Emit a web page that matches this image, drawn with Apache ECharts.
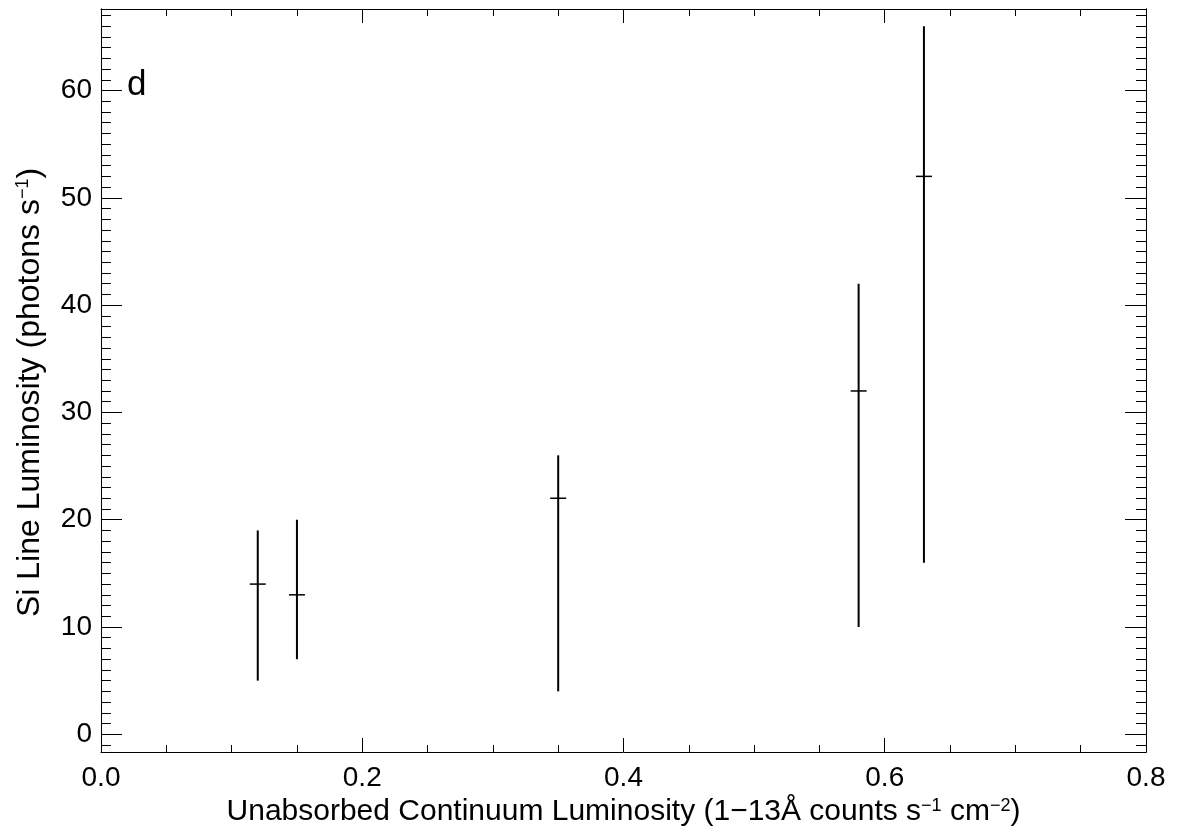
<!DOCTYPE html>
<html>
<head>
<meta charset="utf-8">
<script src="https://cdn.jsdelivr.net/npm/echarts@6/dist/echarts.min.js"></script>
<style>html,body{margin:0;padding:0;background:#fff}#c{width:1182px;height:834px}</style>
</head>
<body>
<div id="c"></div>
<script>
// Data
const xValues = [0.12, 0.15, 0.35, 0.58, 0.63];
const yValues = [14, 13, 22, 32, 52];
const yLow    = [5, 7, 4, 10, 16];
const yHigh   = [19, 20, 26, 42, 66];

const xTickLabels = [0.0, 0.2, 0.4, 0.6, 0.8];
const yMajorTicks = [0, 10, 20, 30, 40, 50, 60];
const yMinorTicks = [];
for (let v = -1; v <= 67; v++) yMinorTicks.push(v);

const X_MIN = 0, X_MAX = 0.8, Y_MIN = -1.65, Y_MAX = 67.6;
const FONT = '"Liberation Sans", Arial, sans-serif';

const seriesData = xValues.map((x, i) => [x, yValues[i], yLow[i], yHigh[i]]);

const chart = echarts.init(document.getElementById('c'), null, {renderer: 'canvas'});

const axisLine = {show: true, onZero: false, lineStyle: {color: '#000', width: 1}};

function yAx(pos, ticks, len, labels, extra) {
  return Object.assign({
    type: 'value', position: pos, min: Y_MIN, max: Y_MAX,
    axisLine: axisLine,
    axisTick: {show: true, inside: true, length: len, customValues: ticks, lineStyle: {color: '#000', width: 1}},
    axisLabel: labels ? {show: true, customValues: yMajorTicks, fontSize: 28, color: '#000', fontFamily: FONT, margin: 9, formatter: v => String(Math.round(v))} : {show: false},
    splitLine: {show: false}
  }, extra || {});
}

const supRich = {
  sup: {fontSize: 18, fontFamily: FONT, color: '#000', verticalAlign: 'top'}
};

chart.setOption({
  animation: false,
  backgroundColor: '#fff',
  grid: {left: 101, right: 36, top: 9, bottom: 82, containLabel: false},
  xAxis: [
    {
      type: 'value', position: 'bottom', min: X_MIN, max: X_MAX, interval: 0.2,
      axisLine: axisLine,
      axisTick: {show: true, inside: true, length: 14, lineStyle: {color: '#000'}},
      minorTick: {show: true, splitNumber: 4, length: 7, lineStyle: {color: '#000'}},
      axisLabel: {show: true, fontSize: 28, color: '#000', fontFamily: FONT, margin: 12,
        customValues: xTickLabels, formatter: v => Number(v).toFixed(1)},
      splitLine: {show: false},
      name: 'Unabsorbed Continuum Luminosity (1\u221213\u00c5 counts s{sup|\u22121} cm{sup|\u22122})',
      nameLocation: 'middle', nameGap: 41,
      nameTextStyle: {fontSize: 30, color: '#000', fontFamily: FONT, rich: supRich}
    },
    {
      type: 'value', position: 'top', min: X_MIN, max: X_MAX, interval: 0.2,
      axisLine: axisLine,
      axisTick: {show: true, inside: true, length: 14, lineStyle: {color: '#000'}},
      minorTick: {show: true, splitNumber: 4, length: 7, lineStyle: {color: '#000'}},
      axisLabel: {show: false},
      splitLine: {show: false}
    }
  ],
  yAxis: [
    yAx('left', yMajorTicks, 21, true, {
      name: 'Si Line Luminosity (photons s{sup|\u22121})',
      nameLocation: 'middle', nameGap: 55,
      nameTextStyle: {fontSize: 32, color: '#000', fontFamily: FONT, rich: supRich, padding: [0, 24, 0, 0]}
    }),
    yAx('left', yMinorTicks, 10, false),
    yAx('right', yMajorTicks, 21, false),
    yAx('right', yMinorTicks, 10, false)
  ],
  graphic: [
    {type: 'text', left: 127, top: 68, style: {text: 'd', fontSize: 35, fill: '#000', fontFamily: FONT}}
  ],
  series: [{
    type: 'custom',
    xAxisIndex: 0, yAxisIndex: 0,
    data: seriesData,
    renderItem: function (params, api) {
      const x = api.value(0), y = api.value(1), lo = api.value(2), hi = api.value(3);
      const c = api.coord([x, y]);
      const pLo = api.coord([x, lo]);
      const pHi = api.coord([x, hi]);
      return {
        type: 'group',
        children: [
          {type: 'line', shape: {x1: pLo[0], y1: pLo[1], x2: pHi[0], y2: pHi[1]}, style: {stroke: '#000', lineWidth: 2}},
          {type: 'line', shape: {x1: c[0] - 8, y1: c[1], x2: c[0] + 8, y2: c[1]}, style: {stroke: '#000', lineWidth: 1.5}}
        ]
      };
    }
  }]
});
</script>
</body>
</html>
